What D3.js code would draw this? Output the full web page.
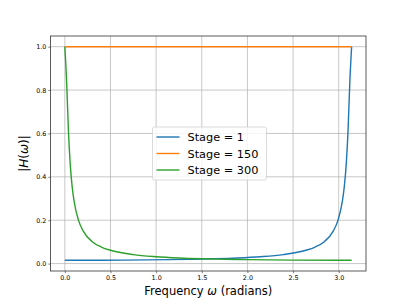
<!DOCTYPE html>
<html>
<head>
<meta charset="utf-8">
<script src="https://cdn.jsdelivr.net/npm/d3@7"></script>
<style>
  body { margin: 0; background: #fff; }
  svg { display: block; font-family: "DejaVu Sans", sans-serif; }
</style>
</head>
<body>
<svg id="viz" width="407" height="305"></svg>
<script>
(function () {
  "use strict";

  // Frequency samples (radians)
  const omega = [0, 0.02, 0.04, 0.06, 0.08, 0.1, 0.15, 0.2, 0.3, 0.4, 0.5, 0.75,
    1.0, 1.25, 1.5, 1.75, 2.0, 2.5, 3.0, 3.1416];

  // Stage 300 : low-pass looking curve
  const stage300 = [1.0, 0.836, 0.606, 0.453, 0.356, 0.291, 0.199, 0.151, 0.101,
    0.0764, 0.0614, 0.0415, 0.0318, 0.026, 0.0223, 0.0198, 0.0181, 0.016, 0.0153, 0.0152];

  // Stage 1 : mirror image, sampled at pi - omega
  const omegaRev = [0, 0.1416, 0.6416, 1.1416, 1.3916, 1.6416, 1.8916, 2.1416,
    2.3916, 2.6416, 2.7416, 2.8416, 2.9416, 2.9916, 3.0416, 3.0616, 3.0816,
    3.1016, 3.1216, 3.1416];
  const stage1 = [0.0152, 0.0153, 0.016, 0.0181, 0.0198, 0.0223, 0.026, 0.0318,
    0.0415, 0.0614, 0.0764, 0.101, 0.151, 0.199, 0.291, 0.356, 0.453, 0.606, 0.836, 1.0];

  // Stage 150 : flat
  const omegaFlat = [0, 3.1416];
  const stage150 = [1.0, 1.0];

  const series = [
    { name: "Stage = 1", x: omegaRev, y: stage1, color: "#1f77b4" },
    { name: "Stage = 150", x: omegaFlat, y: stage150, color: "#ff7f0e" },
    { name: "Stage = 300", x: omega, y: stage300, color: "#2ca02c" }
  ];

  const xTicks = [0, 0.5, 1.0, 1.5, 2.0, 2.5, 3.0];
  const yTicks = [0, 0.2, 0.4, 0.6, 0.8, 1.0];

  /*
  |--------------------------------------------------------------------------
  | Layout
  |--------------------------------------------------------------------------
  */
  let box = { left: 50.5, top: 36, right: 366, bottom: 271 };

  let x = d3.scaleLinear()
    .domain([-0.157, 3.299])
    .range([box.left, box.right]);

  let y = d3.scaleLinear()
    .domain([-0.0342, 1.0493])
    .range([box.bottom, box.top]);

  let svg = d3.select("#viz");

  // grid
  let grid = svg.append("g");
  grid.selectAll(".gx").data(xTicks).enter().append("line")
    .attr("x1", d => x(d)).attr("x2", d => x(d))
    .attr("y1", box.top).attr("y2", box.bottom)
    .attr("stroke", "#b0b0b0").attr("stroke-width", 0.7);
  grid.selectAll(".gy").data(yTicks).enter().append("line")
    .attr("x1", box.left).attr("x2", box.right)
    .attr("y1", d => y(d)).attr("y2", d => y(d))
    .attr("stroke", "#b0b0b0").attr("stroke-width", 0.7);

  // curves
  let line = d3.line()
    .x(d => x(d[0]))
    .y(d => y(d[1]))
    .curve(d3.curveMonotoneX);

  svg.append("g").selectAll("path")
    .data(series)
    .enter()
    .append("path")
    .attr("d", s => line(s.x.map((v, i) => [v, s.y[i]])))
    .attr("fill", "none")
    .attr("stroke", s => s.color)
    .attr("stroke-width", 1.4);

  // axes
  let xAxis = d3.axisBottom(x).tickValues(xTicks).tickFormat(d3.format(".1f"))
    .tickSize(2.2).tickPadding(2);
  let yAxis = d3.axisLeft(y).tickValues(yTicks).tickFormat(d3.format(".1f"))
    .tickSize(2.2).tickPadding(2);

  let gx = svg.append("g")
    .attr("transform", `translate(0,${box.bottom})`)
    .call(xAxis);
  let gy = svg.append("g")
    .attr("transform", `translate(${box.left},0)`)
    .call(yAxis);

  [gx, gy].forEach(g => {
    g.select(".domain").remove();
    g.selectAll(".tick line").attr("stroke", "#000").attr("stroke-width", 0.5);
    g.selectAll(".tick text")
      .attr("fill", "#000")
      .style("font-size", "6.4px")
      .style("font-family", "DejaVu Sans");
  });

  // frame
  svg.append("rect")
    .attr("x", box.left).attr("y", box.top)
    .attr("width", box.right - box.left).attr("height", box.bottom - box.top)
    .attr("fill", "none").attr("stroke", "#333").attr("stroke-width", 0.8);

  // labels
  let xl = svg.append("text")
    .attr("x", (box.left + box.right) / 2)
    .attr("y", 295)
    .attr("text-anchor", "middle")
    .style("font-size", "11.5px");
  xl.append("tspan").text("Frequency ");
  xl.append("tspan").style("font-style", "italic").text("ω");
  xl.append("tspan").text(" (radians)");

  let yl = svg.append("text")
    .attr("transform", `translate(28,${(box.top + box.bottom) / 2}) rotate(-90)`)
    .attr("text-anchor", "middle")
    .style("font-size", "12px");
  yl.append("tspan").text("|");
  yl.append("tspan").style("font-style", "italic").text("H");
  yl.append("tspan").text("(");
  yl.append("tspan").style("font-style", "italic").text("ω");
  yl.append("tspan").text(")|");

  /*
  |--------------------------------------------------------------------------
  | Legend
  |--------------------------------------------------------------------------
  */
  let legend = svg.append("g").attr("transform", "translate(152.5,127)");

  legend.append("rect")
    .attr("width", 114).attr("height", 53)
    .attr("rx", 2)
    .attr("fill", "#fff").attr("fill-opacity", 0.8)
    .attr("stroke", "#cccccc").attr("stroke-width", 0.7);

  let items = legend.selectAll(".item")
    .data(series)
    .enter()
    .append("g")
    .attr("transform", (d, i) => `translate(0,${10 + i * 16.5})`);

  items.append("line")
    .attr("x1", 4).attr("x2", 27)
    .attr("stroke", d => d.color).attr("stroke-width", 1.4);

  items.append("text")
    .attr("x", 35)
    .attr("y", 4)
    .style("font-size", "11.3px")
    .text(d => d.name);
})();
</script>
</body>
</html>
